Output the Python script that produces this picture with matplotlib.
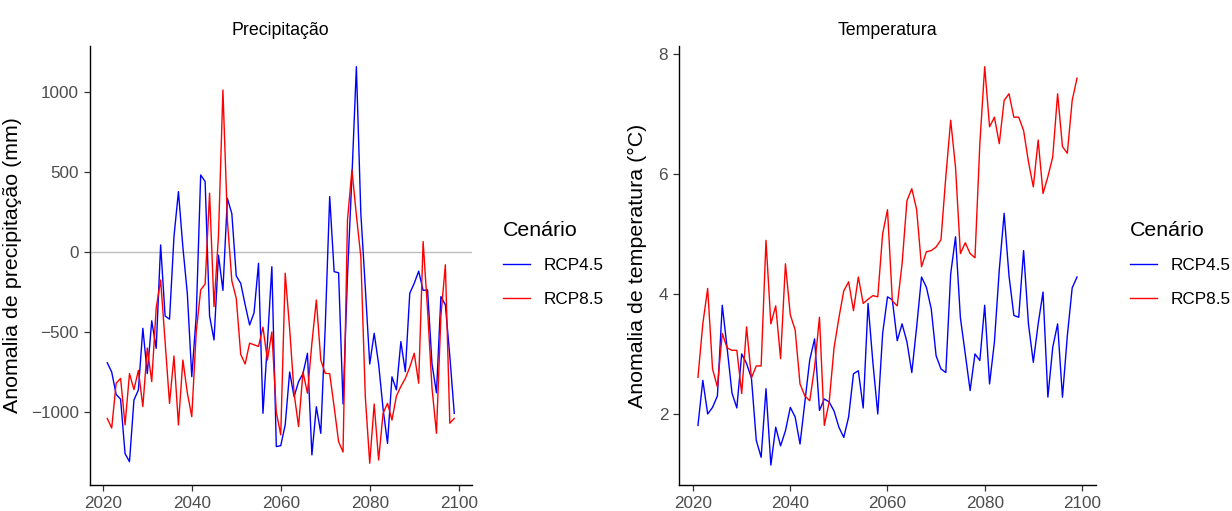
import numpy as np
import matplotlib
matplotlib.use("Agg")
import matplotlib.pyplot as plt

plt.rcParams['font.family'] = ['Liberation Sans', 'DejaVu Sans']

anos = np.arange(2021, 2100)

prec_rcp45 = [-692, -750, -890, -920, -1260, -1310, -925, -862, -477, -760,
              -430, -602, 44, -400, -420, 96, 377, 30, -260, -779,
              -400, 481, 440, -400, -550, -20, -240, 335, 240, -150,
              -196, -330, -456, -380, -71, -1008, -570, -92, -1216, -1210,
              -1080, -750, -904, -810, -760, -633, -1268, -967, -1133, -467,
              346, -123, -130, -950, -150, 471, 1158, 242, -220, -700,
              -508, -700, -980, -1196, -780, -862, -560, -748, -258, -196,
              -120, -240, -237, -700, -880, -279, -330, -650, -1008]

prec_rcp85 = [-1040, -1100, -820, -790, -1080, -760, -860, -740, -966, -600,
              -810, -350, -175, -560, -946, -650, -1081, -675, -880, -1029,
              -500, -237, -200, 367, -341, 100, 1012, 200, -180, -290,
              -640, -700, -570, -580, -590, -470, -675, -500, -1000, -1143,
              -133, -480, -883, -1091, -750, -883, -570, -300, -675, -758,
              -760, -967, -1185, -1250, 200, 513, 230, -30, -900, -1320,
              -950, -1300, -1008, -946, -1050, -900, -840, -790, -720, -633,
              -820, 65, -362, -850, -1133, -400, -80, -1070, -1040]

temp_rcp45 = [1.81, 2.56, 2.00, 2.11, 2.30, 3.81, 3.10, 2.35, 2.10, 3.00,
              2.84, 2.60, 1.56, 1.28, 2.42, 1.15, 1.78, 1.47, 1.72, 2.11,
              1.95, 1.50, 2.20, 2.90, 3.25, 2.06, 2.25, 2.20, 2.05, 1.78,
              1.61, 1.95, 2.67, 2.72, 2.10, 3.84, 2.85, 2.00, 3.34, 3.95,
              3.90, 3.22, 3.50, 3.20, 2.69, 3.45, 4.28, 4.11, 3.75, 2.97,
              2.75, 2.69, 4.33, 4.95, 3.60, 3.00, 2.39, 3.00, 2.89, 3.81,
              2.50, 3.20, 4.40, 5.34, 4.30, 3.64, 3.61, 4.72, 3.50, 2.86,
              3.50, 4.03, 2.28, 3.11, 3.50, 2.28, 3.30, 4.10, 4.28]

temp_rcp85 = [2.61, 3.50, 4.09, 2.75, 2.45, 3.34, 3.10, 3.06, 3.06, 2.34,
              3.45, 2.60, 2.80, 2.80, 4.89, 3.50, 3.80, 2.92, 4.50, 3.65,
              3.40, 2.50, 2.30, 2.22, 2.78, 3.61, 1.81, 2.20, 3.10, 3.60,
              4.05, 4.20, 3.72, 4.28, 3.84, 3.91, 3.97, 3.95, 5.00, 5.40,
              3.88, 3.80, 4.50, 5.55, 5.75, 5.40, 4.45, 4.70, 4.72, 4.78,
              4.90, 5.95, 6.89, 6.10, 4.67, 4.85, 4.67, 4.60, 6.50, 7.78,
              6.78, 6.94, 6.50, 7.22, 7.33, 6.94, 6.94, 6.72, 6.20, 5.78,
              6.56, 5.67, 5.95, 6.28, 7.33, 6.45, 6.34, 7.22, 7.59]

cenarios = ['RCP4.5', 'RCP8.5']
cores = ['#0000FF', '#FF0000']

W, H = 1232, 511
fig = plt.figure(figsize=(W / 100, H / 100), dpi=100)

def px_axes(x0, x1, top, bottom):
    return fig.add_axes([x0 / W, 1 - bottom / H, (x1 - x0) / W, (bottom - top) / H])

ax1 = px_axes(89.9, 471.6, 46, 485)
ax2 = px_axes(679, 1096, 46, 485)

tick_col = '#4D4D4D'

def estilo(ax):
    for s in ['top', 'right']:
        ax.spines[s].set_visible(False)
    for s in ['left', 'bottom']:
        ax.spines[s].set_linewidth(1.0)
        ax.spines[s].set_color('black')
    ax.tick_params(length=4.3, width=0.9, color='#333333', labelcolor=tick_col,
                   labelsize=12.3, pad=3.5)
    ax.set_xlim(2017.1, 2102.9)
    ax.set_xticks([2020, 2040, 2060, 2080, 2100])

# precipitação
ax1.axhline(0, color='#BEBEBE', lw=1.0, zorder=1)
for serie, cor, nome in zip([prec_rcp45, prec_rcp85], cores, cenarios):
    ax1.plot(anos, serie, color=cor, lw=1.0, label=nome, zorder=2)
estilo(ax1)
ax1.set_ylim(-1456, 1287)
ax1.set_yticks([-1000, -500, 0, 500, 1000])
ax1.set_title('Precipitação', fontsize=12.8, pad=8)
ax1.set_ylabel('Anomalia de precipitação (mm)', fontsize=15.4)
ax1.yaxis.set_label_coords(-0.1787, 0.5)

# temperatura
for serie, cor, nome in zip([temp_rcp45, temp_rcp85], cores, cenarios):
    ax2.plot(anos, serie, color=cor, lw=1.0, label=nome)
estilo(ax2)
ax2.set_ylim(0.818, 8.125)
ax2.set_yticks([2, 4, 6, 8])
ax2.set_title('Temperatura', fontsize=12.8, pad=8)
ax2.set_ylabel('Anomalia de temperatura (°C)', fontsize=15.4)
ax2.yaxis.set_label_coords(-0.0775, 0.5)

for ax, xleg in [(ax1, 503), (ax2, 1130)]:
    leg = ax.legend(title='Cenário', loc='upper left',
                    bbox_to_anchor=(xleg / W, 1 - 221 / H),
                    bbox_transform=fig.transFigure, frameon=False,
                    fontsize=12.3, title_fontsize=15.4, borderpad=0,
                    borderaxespad=0, handlelength=1.6, handletextpad=0.75,
                    labelspacing=1.08, alignment='left')

fig.savefig('out.png', dpi=100)
